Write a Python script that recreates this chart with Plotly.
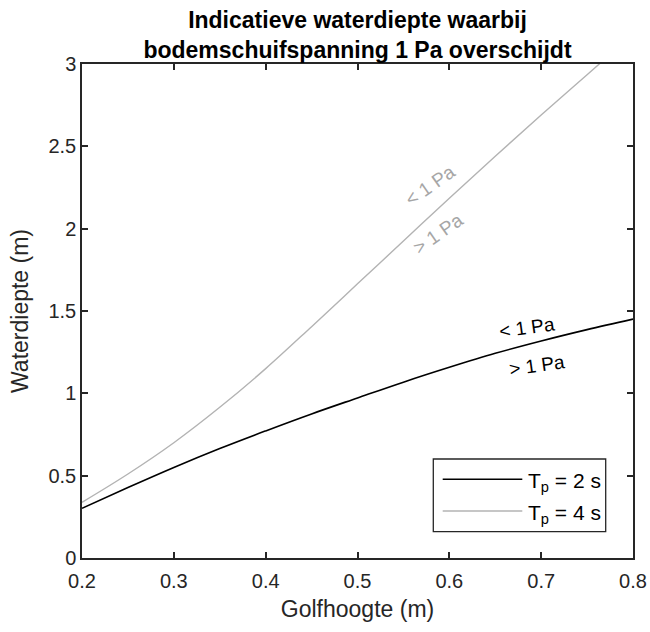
import plotly.graph_objects as go

# Data
golfhoogte = [0.20, 0.25, 0.30, 0.35, 0.40, 0.45, 0.50, 0.55, 0.60, 0.65, 0.70, 0.75, 0.80]
diepte_tp2 = [0.302, 0.428, 0.55, 0.665, 0.772, 0.875, 0.972, 1.068, 1.158, 1.243, 1.318, 1.387, 1.451]
diepte_tp4 = [0.338, 0.51, 0.70, 0.915, 1.15, 1.405, 1.665, 1.925, 2.185, 2.44, 2.69, 2.935, 3.18]

legend_labels = ["T<sub>p</sub> = 2 s", "T<sub>p</sub> = 4 s"]
x_ticks = [0.2, 0.3, 0.4, 0.5, 0.6, 0.7, 0.8]
y_ticks = [0, 0.5, 1, 1.5, 2, 2.5, 3]

# label positions (data coordinates) for "< 1 Pa" / "> 1 Pa"
labels_tp2 = [(0.685, 1.40, "&lt; 1 Pa"), (0.695, 1.172, "&gt; 1 Pa")]
labels_tp4 = [(0.579, 2.265, "&lt; 1 Pa"), (0.588, 1.971, "&gt; 1 Pa")]

FONT = "Liberation Sans, Arial, Helvetica, sans-serif"
AX = "#262626"
BLACK = "#000000"
GRAY = "#b3b3b3"

fig = go.Figure()
fig.add_trace(go.Scatter(x=golfhoogte, y=diepte_tp2, mode="lines", line=dict(color=BLACK, width=1.6, shape="spline"),
                         name=legend_labels[0], showlegend=False))
fig.add_trace(go.Scatter(x=golfhoogte, y=diepte_tp4, mode="lines", line=dict(color=GRAY, width=1.4, shape="spline"),
                         name=legend_labels[1], showlegend=False))

annotations = []
for (x, y, t) in labels_tp2:
    annotations.append(dict(x=x, y=y, xref="x", yref="y", text=t, showarrow=False, textangle=-8,
                            font=dict(family=FONT, size=19, color=BLACK)))
for (x, y, t) in labels_tp4:
    annotations.append(dict(x=x, y=y, xref="x", yref="y", text=t, showarrow=False, textangle=-35,
                            font=dict(family=FONT, size=19, color="#a6a6a6")))

# Custom legend (MATLAB style) in paper coordinates
W, H = 650, 632
ml, mr, mt, mb = 82, 17, 64, 74
pw, ph = W - ml - mr, H - mt - mb

def px2paper(px, py):
    return (px - ml) / pw, (H - mb - py) / ph

shapes = []
x0, y0 = px2paper(433.3, 531.7)
x1, y1 = px2paper(605.7, 459)
shapes.append(dict(type="rect", xref="paper", yref="paper", x0=x0, y0=y0, x1=x1, y1=y1,
                   line=dict(color=AX, width=1.3), fillcolor="white", layer="above"))
for i, (py, col, lbl) in enumerate([(479.3, BLACK, legend_labels[0]), (511, GRAY, legend_labels[1])]):
    lx0, ly = px2paper(442.7, py)
    lx1, _ = px2paper(522.3, py)
    shapes.append(dict(type="line", xref="paper", yref="paper", x0=lx0, x1=lx1, y0=ly, y1=ly,
                       line=dict(color=col, width=1.6 if i == 0 else 1.4), layer="above"))
    tx, ty = px2paper(526, py + 3)
    annotations.append(dict(x=tx, y=ty, xref="paper", yref="paper", text=lbl, showarrow=False,
                            xanchor="left", yanchor="middle", font=dict(family=FONT, size=21, color=BLACK)))

fig.update_layout(
    width=W, height=H,
    margin=dict(l=ml, r=mr, t=mt, b=mb, autoexpand=False),
    paper_bgcolor="white", plot_bgcolor="white",
    font=dict(family=FONT, size=20, color=AX),
    title=dict(text="<b>Indicatieve waterdiepte waarbij<br>bodemschuifspanning 1 Pa overschijdt</b>",
               x=(ml + pw / 2) / W, xanchor="center", yref="container", y=1 - 28 / H, yanchor="middle",
               font=dict(family=FONT, size=23, color=BLACK)),
    showlegend=False,
    annotations=annotations,
    shapes=shapes,
)
fig.update_xaxes(range=[0.2, 0.8], tickvals=x_ticks, ticktext=[f"{v:g}" for v in x_ticks],
                 showgrid=False, zeroline=False, showline=True, linecolor=AX, linewidth=1.5,
                 mirror="allticks", ticks="inside", ticklen=6, tickcolor=AX, tickwidth=1.5,
                 automargin=False, ticklabelstandoff=4,
                 title=dict(text="Golfhoogte (m)", font=dict(size=23), standoff=10),
                 tickfont=dict(size=20, color=AX))
fig.update_yaxes(range=[0, 3], tickvals=y_ticks, ticktext=[f"{v:g}" for v in y_ticks],
                 showgrid=False, zeroline=False, showline=True,
                 linecolor=AX, linewidth=1.5,
                 mirror="allticks", ticks="inside", ticklen=6, tickcolor=AX, tickwidth=1.5,
                 automargin=False,
                 title=dict(text="Waterdiepte (m)", font=dict(size=23), standoff=13),
                 tickfont=dict(size=20, color=AX))

fig.write_html("out.html")
